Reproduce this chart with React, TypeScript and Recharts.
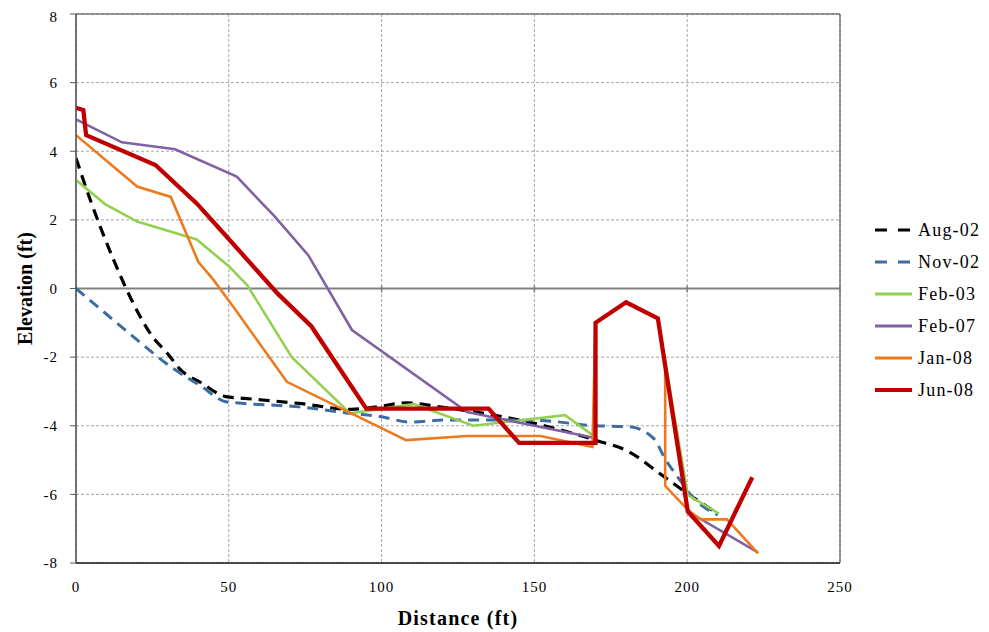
import React from 'react';
import {
  LineChart,
  Line,
  XAxis,
  YAxis,
  CartesianGrid,
  Legend,
  ReferenceLine,
  ReferenceArea,
} from 'recharts';

const FONT = '"Liberation Serif", "Times New Roman", serif';

// Axis ticks
const distanceTicks = [0, 50, 100, 150, 200, 250];
const elevationTicks = [-8, -6, -4, -2, 0, 2, 4, 6, 8];
const DIST_MIN = 0;
const DIST_MAX = 250;

// Survey profiles: distance (ft) and elevation (ft)
const aug02Distance = [0, 5, 12, 18, 25, 30, 34, 41, 49, 55, 73, 90, 100, 108, 119, 150, 170, 181, 191, 200, 210];
const aug02Elevation = [3.8, 2.5, 0.9, -0.3, -1.4, -1.9, -2.35, -2.75, -3.15, -3.2, -3.35, -3.52, -3.43, -3.33, -3.45, -3.93, -4.42, -4.76, -5.39, -5.97, -6.56];

const nov02Distance = [0, 10, 20, 31, 41, 49, 55, 73, 90, 100, 109, 122, 150, 170, 181, 189, 193, 198, 201, 210];
const nov02Elevation = [0, -0.75, -1.5, -2.28, -2.85, -3.3, -3.35, -3.45, -3.64, -3.74, -3.89, -3.83, -3.84, -4.0, -4.03, -4.37, -5.0, -5.63, -6.0, -6.6];

const feb03Distance = [0, 9.5, 20, 39.5, 50, 56, 70.6, 89.7, 110.5, 130, 160, 169.5, 170, 180, 190.4, 200.2, 210.4];
const feb03Elevation = [3.16, 2.46, 1.95, 1.43, 0.65, 0.1, -2.0, -3.64, -3.37, -4.0, -3.69, -4.3, -1.0, -0.4, -0.87, -6.02, -6.56];

const feb07Distance = [0, 15, 32.4, 52.6, 65, 76, 90.3, 128, 169.4, 170, 180, 190.4, 200.2, 223];
const feb07Elevation = [4.93, 4.26, 4.06, 3.26, 2.1, 0.97, -1.21, -3.6, -4.35, -1.0, -0.4, -0.87, -6.5, -7.68];

const jan08Distance = [0, 20, 31, 40, 45, 52, 69, 108, 128, 152, 169, 170, 180, 190.4, 192.8, 192.8, 200.2, 204.4, 213, 223.2];
const jan08Elevation = [4.47, 2.97, 2.67, 0.78, 0.25, -0.6, -2.72, -4.42, -4.3, -4.3, -4.62, -1.0, -0.4, -0.87, -2.3, -5.75, -6.45, -6.73, -6.73, -7.72];

const jun08Distance = [0, 2.4, 3.3, 26, 39.5, 49.4, 66, 77, 95, 135, 145, 170, 170, 180, 190.4, 200.2, 210.4, 221.3];
const jun08Elevation = [5.27, 5.2, 4.47, 3.6, 2.48, 1.5, -0.15, -1.1, -3.5, -3.5, -4.5, -4.5, -1.0, -0.4, -0.87, -6.5, -7.5, -5.5];

const zip = (xs: number[], ys: number[]) => xs.map((x, i) => ({ x, y: ys[i] }));

type Series = {
  name: string;
  data: { x: number; y: number }[];
  color: string;
  width: number;
  dash?: string;
  curve: 'linear' | 'monotone';
};

const series: Series[] = [
  { name: 'Aug-02', data: zip(aug02Distance, aug02Elevation), color: '#000000', width: 3.2, dash: '11 7', curve: 'monotone' },
  { name: 'Nov-02', data: zip(nov02Distance, nov02Elevation), color: '#3C6CA2', width: 3, dash: '11 7', curve: 'monotone' },
  { name: 'Feb-03', data: zip(feb03Distance, feb03Elevation), color: '#92D050', width: 2.6, curve: 'linear' },
  { name: 'Feb-07', data: zip(feb07Distance, feb07Elevation), color: '#7F62A1', width: 2.6, curve: 'linear' },
  { name: 'Jan-08', data: zip(jan08Distance, jan08Elevation), color: '#EE7A1E', width: 2.6, curve: 'linear' },
  { name: 'Jun-08', data: zip(jun08Distance, jun08Elevation), color: '#C00000', width: 4.3, curve: 'linear' },
];

// Solid zero line with small tick marks at each distance tick
const ZeroLine = (props: any) => {
  const { x1, x2, y1 } = props;
  if (x1 == null || x2 == null || y1 == null) return null;
  const span = x2 - x1;
  return (
    <g>
      <line x1={x1} y1={y1} x2={x2} y2={y1} stroke="#808080" strokeWidth={2} />
      {distanceTicks.map((t) => {
        const x = x1 + ((t - DIST_MIN) / (DIST_MAX - DIST_MIN)) * span;
        return <line key={t} x1={x} x2={x} y1={y1 - 3} y2={y1 + 4} stroke="#808080" strokeWidth={1.5} />;
      })}
    </g>
  );
};

const LegendContent = () => (
  <div style={{ fontFamily: FONT, fontSize: 18, letterSpacing: 1.2, color: '#000' }}>
    {series.map((s) => (
      <div key={s.name} style={{ height: 32, display: 'flex', alignItems: 'center' }}>
        <svg width={37} height={8} style={{ display: 'block' }}>
          <line
            x1={0}
            y1={4}
            x2={37}
            y2={4}
            stroke={s.color}
            strokeWidth={s.width > 3.5 ? 4 : 3}
            strokeDasharray={s.dash ? '12 11' : undefined}
          />
        </svg>
        <span style={{ marginLeft: 6, lineHeight: '20px' }}>{s.name}</span>
      </div>
    ))}
  </div>
);

export default function App() {
  return (
    <LineChart
      width={973}
      height={624}
      margin={{ top: 6, right: 141, bottom: 39, left: 0 }}
      style={{ fontFamily: FONT }}
    >
      <CartesianGrid stroke="#A6A6A6" strokeDasharray="3 2" />
      <XAxis
        dataKey="x"
        type="number"
        domain={[DIST_MIN, DIST_MAX]}
        ticks={distanceTicks}
        allowDataOverflow
        height={30}
        tickLine={false}
        tickSize={8}
        tickMargin={10}
        axisLine={{ stroke: '#000000', strokeWidth: 1 }}
        tick={{ fontFamily: FONT, fontSize: 15, fill: '#000', letterSpacing: 1 }}
        label={{
          value: 'Distance (ft)',
          position: 'bottom',
          offset: 18,
          style: { fontFamily: FONT, fontSize: 20, fontWeight: 'bold', fill: '#000', letterSpacing: 1.2 },
        }}
      />
      <YAxis
        type="number"
        domain={[-8, 8]}
        ticks={elevationTicks}
        allowDataOverflow
        width={68}
        tickSize={6}
        tickMargin={12}
        axisLine={{ stroke: '#595959', strokeWidth: 1.2 }}
        tickLine={{ stroke: '#595959' }}
        tick={{ fontFamily: FONT, fontSize: 15, fill: '#000', letterSpacing: 1 }}
        label={{
          value: 'Elevation (ft)',
          angle: -90,
          position: 'insideLeft',
          offset: 17,
          style: { fontFamily: FONT, fontSize: 20, fontWeight: 'bold', fill: '#000', textAnchor: 'middle' },
        }}
      />
      <ReferenceArea
        x1={DIST_MIN}
        x2={DIST_MAX}
        y1={-8}
        y2={8}
        fill="none"
        stroke="#404040"
        strokeWidth={1}
        ifOverflow="visible"
      />
      <ReferenceLine y={0} shape={ZeroLine} />
      {series.map((s) => (
        <Line
          key={s.name}
          name={s.name}
          data={s.data}
          dataKey="y"
          type={s.curve}
          stroke={s.color}
          strokeWidth={s.width}
          strokeDasharray={s.dash}
          strokeLinejoin="miter"
          dot={false}
          activeDot={false}
          isAnimationActive={false}
        />
      ))}
      <Legend
        layout="vertical"
        align="center"
        verticalAlign="middle"
        content={LegendContent}
        wrapperStyle={{ left: 867, top: 206, width: 115 }}
      />
    </LineChart>
  );
}
